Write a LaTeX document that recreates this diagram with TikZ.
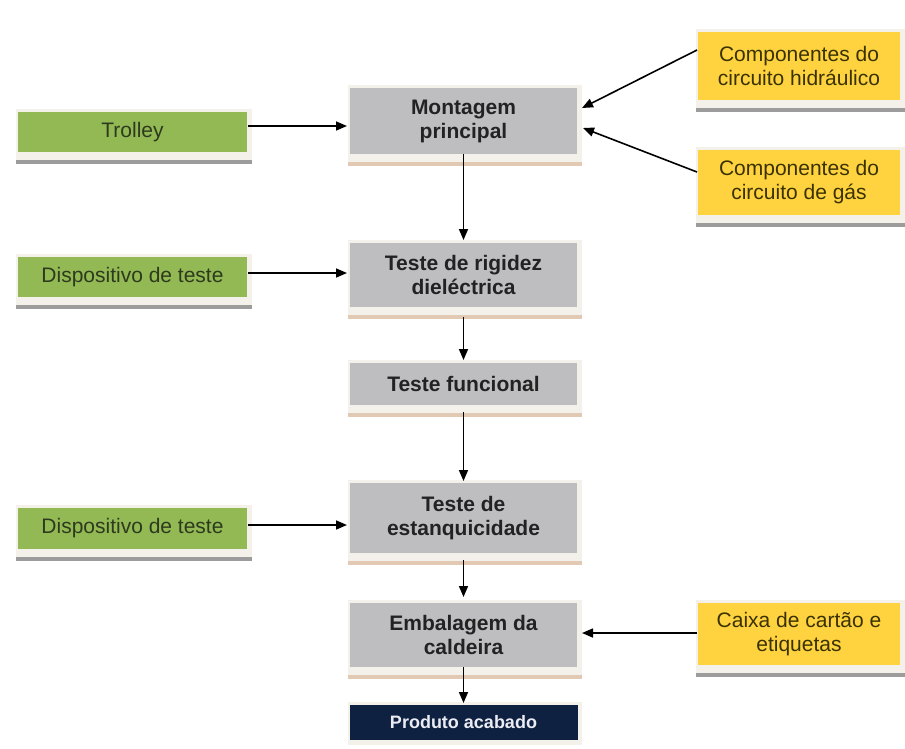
\documentclass[tikz,border=0pt]{standalone}
\usepackage{fontspec}
\setmainfont{Liberation Sans}
\usetikzlibrary{arrows.meta}
\definecolor{boxgreen}{HTML}{93B955}
\definecolor{boxgray}{HTML}{BEBEC0}
\definecolor{boxyellow}{HTML}{FFD340}
\definecolor{boxnavy}{HTML}{0F2140}
\definecolor{framelight}{HTML}{F4F0EA}
\definecolor{stripgray}{HTML}{9C9C9C}
\definecolor{striptan}{HTML}{E2C9B4}
\definecolor{txtgreen}{HTML}{2D3A1E}
\definecolor{txtyellow}{HTML}{3A3200}
\definecolor{txtgray}{HTML}{222222}
\definecolor{txtnavy}{HTML}{ECECF4}
\pgfdeclarelayer{bg}
\pgfdeclarelayer{paper}
\pgfsetlayers{paper,bg,main}
% light frame with a coloured strip under a box
\newcommand\boxshadow[2]{%
  \begin{pgfonlayer}{bg}
    \fill[framelight] ([shift={(-2,-3)}]#1.north west) rectangle ([shift={(5,12)}]#1.south east);
    \fill[#2] ([shift={(-2,8)}]#1.south west) rectangle ([shift={(5,12)}]#1.south east);
  \end{pgfonlayer}}
\begin{document}
\begin{tikzpicture}[x=1pt,y=-1pt,
  basebox/.style={rectangle, inner sep=0pt, outer sep=0pt, align=center,
    font=\fontsize{21}{24}\selectfont},
  greenbox/.style={basebox, fill=boxgreen, text=txtgreen, minimum width=229pt},
  yellowbox/.style={basebox, fill=boxyellow, text=txtyellow, minimum width=202pt},
  graybox/.style={basebox, fill=boxgray, text=txtgray, minimum width=227pt,
    font=\fontsize{21}{24}\selectfont\bfseries},
  navybox/.style={basebox, fill=boxnavy, text=txtnavy, minimum width=228pt,
    font=\fontsize{18}{20}\selectfont\bfseries},
  arr/.style={draw=black, line width=1.6pt, -{Triangle[length=11pt,width=9pt]}}]
\begin{pgfonlayer}{paper}
  \fill[white] (0,0) rectangle (905,748);
\end{pgfonlayer}
\useasboundingbox (0,0) rectangle (905,748);

% process column
\node[graybox, minimum height=66pt] (mont) at (463.5,121) {Montagem\\principal};
\node[graybox, minimum height=64pt] (rig) at (463.5,275) {Teste de rigidez\\dieléctrica};
\node[graybox, minimum height=42pt] (func) at (463.5,384) {Teste funcional};
\node[graybox, minimum height=70pt] (estq) at (463.5,518) {Teste de\\estanquicidade};
\node[graybox, minimum height=64pt] (emb) at (463.5,635) {Embalagem da\\caldeira};
\node[navybox, minimum height=35pt] (prod) at (463.5,722.5) {Produto acabado};

% inputs on the left
\node[greenbox, minimum height=40pt] (trol) at (132.5,132) {Trolley};
\node[greenbox, minimum height=40pt] (disp1) at (132.5,277) {Dispositivo de teste};
\node[greenbox, minimum height=41pt] (disp2) at (132.5,528.5) {Dispositivo de teste};

% inputs on the right
\node[yellowbox, minimum height=68pt] (hidr) at (799,66) {Componentes do\\circuito hidráulico};
\node[yellowbox, minimum height=65pt] (gas) at (799,182.5) {Componentes do\\circuito de gás};
\node[yellowbox, minimum height=62pt] (caixa) at (799,634) {Caixa de cartão e\\etiquetas};

\boxshadow{mont}{striptan}
\boxshadow{rig}{striptan}
\boxshadow{func}{striptan}
\boxshadow{estq}{striptan}
\boxshadow{emb}{striptan}
\boxshadow{trol}{stripgray}
\boxshadow{disp1}{stripgray}
\boxshadow{disp2}{stripgray}
\boxshadow{hidr}{stripgray}
\boxshadow{gas}{stripgray}
\boxshadow{caixa}{stripgray}
\begin{pgfonlayer}{bg}
  \fill[framelight] ([shift={(-2,-3)}]prod.north west) rectangle ([shift={(4,5)}]prod.south east);
\end{pgfonlayer}

% flow down the column
\draw[arr] (mont.south) -- ([yshift=3pt]rig.north);
\draw[arr] ([yshift=-10pt]rig.south) -- ([yshift=3pt]func.north);
\draw[arr] ([yshift=-7pt]func.south) -- ([yshift=2pt]estq.north);
\draw[arr] ([yshift=-7pt]estq.south) -- ([yshift=6pt]emb.north);
\draw[arr] (emb.south) -- ([yshift=2pt]prod.north);

% inputs into the steps
\draw[arr] ([shift={(1,-6)}]trol.east) coordinate (t1) -- ([xshift=-3pt]mont.west |- t1);
\draw[arr] ([shift={(1,-4)}]disp1.east) coordinate (t2) -- ([xshift=-3pt]rig.west |- t2);
\draw[arr] ([shift={(1,-3.5)}]disp2.east) coordinate (t3) -- ([xshift=-3pt]estq.west |- t3);
\draw[arr] ([shift={(-1,-16)}]hidr.west) -- ([shift={(5,-13)}]mont.east);
\draw[arr] ([shift={(-1,-10.5)}]gas.west) -- ([shift={(6,7)}]mont.east);
\draw[arr] ([shift={(-1,-1)}]caixa.west) coordinate (t4) -- ([xshift=5pt]emb.east |- t4);
\end{tikzpicture}
\end{document}
